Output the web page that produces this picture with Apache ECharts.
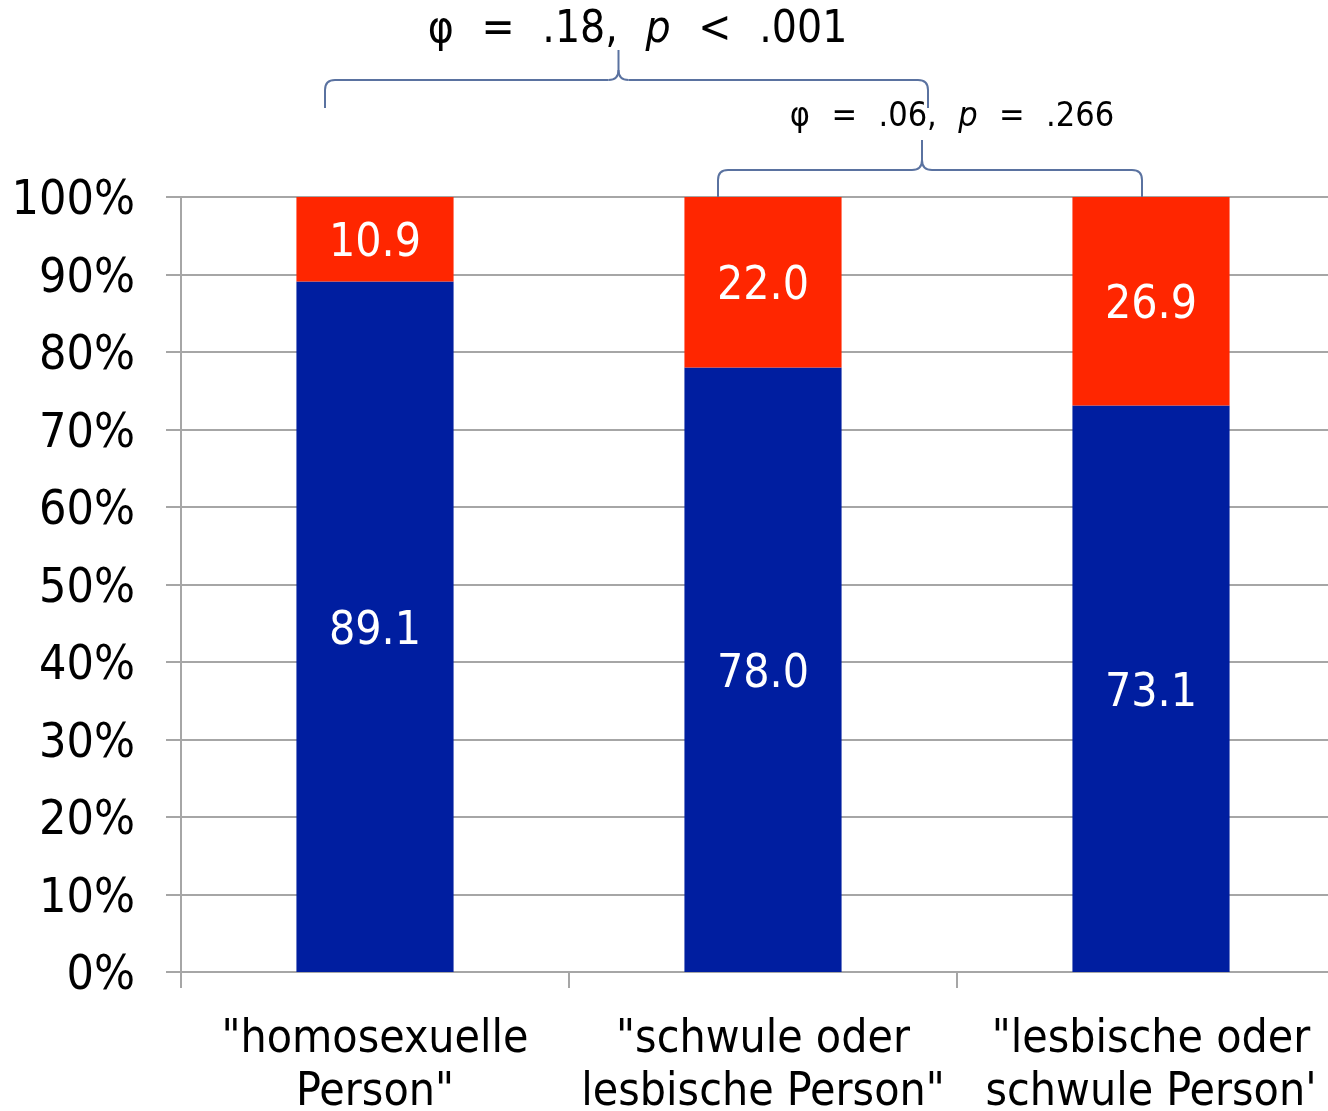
<!DOCTYPE html>
<html><head><meta charset="utf-8">
<script src="https://cdn.jsdelivr.net/npm/echarts@6/dist/echarts.min.js"></script>
<style>html,body{margin:0;padding:0;background:#fff}#c{width:1328px;height:1111px}</style>
</head><body><div id="c"></div>
<script>
const categories = ['"homosexuelle\nPerson"', '"schwule oder\nlesbische Person"', '"lesbische oder\nschwule Person\''];
const blueValues = [89.1, 78.0, 73.1];
const redValues = [10.9, 22.0, 26.9];
const SP = '\u2002\u2009';
const annotBig = ['φ' + SP + '=' + SP + '.18,' + SP, 'p', SP + '<' + SP + '.001'];
const annotSmall = ['φ' + SP + '=' + SP + '.06,' + SP, 'p', SP + '=' + SP + '.266'];

const FONT = '"DejaVu Sans Condensed", "DejaVu Sans", sans-serif';
const chart = echarts.init(document.getElementById('c'), null, {renderer: 'canvas'});
const gridColor = '#a6a6a6';
const barLabel = {show: true, position: 'inside', color: '#fff', fontSize: 46, fontFamily: FONT,
                  offset: [0, 5], formatter: p => p.value.toFixed(1)};
chart.setOption({
  animation: false,
  textStyle: {fontFamily: FONT},
  grid: {left: 181, right: -17, top: 197, bottom: 139, containLabel: false, outerBoundsMode: 'none'},
  xAxis: {
    type: 'category', data: categories,
    axisLine: {lineStyle: {color: gridColor, width: 2}},
    axisTick: {show: true, length: 16, lineStyle: {color: gridColor, width: 2}},
    axisLabel: {color: '#000', fontSize: 46, lineHeight: 53, margin: 42, fontFamily: FONT, interval: 0}
  },
  yAxis: {
    type: 'value', min: 0, max: 100, interval: 10,
    axisLine: {show: true, lineStyle: {color: gridColor, width: 2}},
    axisTick: {show: true, length: 15, lineStyle: {color: gridColor, width: 2}},
    splitLine: {lineStyle: {color: gridColor, width: 2}},
    axisLabel: {color: '#000', fontSize: 48, margin: 46, fontFamily: FONT,
      formatter: v => '{v|' + v + '%}',
      rich: {v: {fontSize: 48, fontFamily: FONT, color: '#000', padding: [10, 0, 0, 0]}}}
  },
  series: [
    {type: 'bar', stack: 's', data: blueValues, barWidth: '40.5%', itemStyle: {color: '#001ea0'}, label: barLabel},
    {type: 'bar', stack: 's', data: redValues, barWidth: '40.5%', itemStyle: {color: '#ff2600'}, label: barLabel}
  ]
});

const bColor = '#5a72a0';
const bStyle = {stroke: bColor, lineWidth: 2, fill: null};
function brace(x0, x1, xm, yb, yl, yt, r) {
  const els = [];
  const line = (a, b, c, d) => els.push({type: 'line', shape: {x1: a, y1: b, x2: c, y2: d}, style: bStyle});
  const quad = (a, b, cx, cy, c, d) => els.push({type: 'bezierCurve', shape: {x1: a, y1: b, x2: c, y2: d, cpx1: cx, cpy1: cy}, style: bStyle});
  line(x0, yb, x0, yl + r);
  quad(x0, yl + r, x0, yl, x0 + r, yl);
  line(x0 + r, yl, xm - r, yl);
  quad(xm - r, yl, xm, yl, xm, yl - r);
  line(xm, yl - r, xm, yt);
  quad(xm, yl - r, xm, yl, xm + r, yl);
  line(xm + r, yl, x1 - r, yl);
  quad(x1 - r, yl, x1, yl, x1, yl + r);
  line(x1, yl + r, x1, yb);
  return els;
}
const px = i => chart.convertToPixel({gridIndex: 0}, [i, 100]);
const c0 = px(0), c1 = px(1), c2 = px(2);
const yTop = c0[1];
const bigL = c0[0] - 50, bigR = c1[0] + 165, bigM = (bigL + bigR) / 2 - 8;
const smL = c1[0] - 45, smR = c2[0] - 9, smM = (smL + smR) / 2 - 8;
function richText(parts, size) {
  return {
    text: `{a|${parts[0]}}{i|${parts[1]}}{a|${parts[2]}}`,
    rich: {
      a: {fontSize: size, fontFamily: FONT, fill: '#000'},
      i: {fontSize: size, fontFamily: FONT, fontStyle: 'italic', fill: '#000'}
    }
  };
}
chart.setOption({
  graphic: [].concat(
    brace(bigL, bigR, bigM, yTop - 89, yTop - 117, yTop - 147, 10),
    brace(smL, smR, smM, yTop + 3, yTop - 27, yTop - 57, 10),
    [
      {type: 'text', x: bigM + 19, y: 31,
       style: Object.assign(richText(annotBig, 44), {align: 'center', verticalAlign: 'middle'})},
      {type: 'text', x: smM + 30, y: 117,
       style: Object.assign(richText(annotSmall, 34), {align: 'center', verticalAlign: 'middle'})}
    ])
});
</script></body></html>
